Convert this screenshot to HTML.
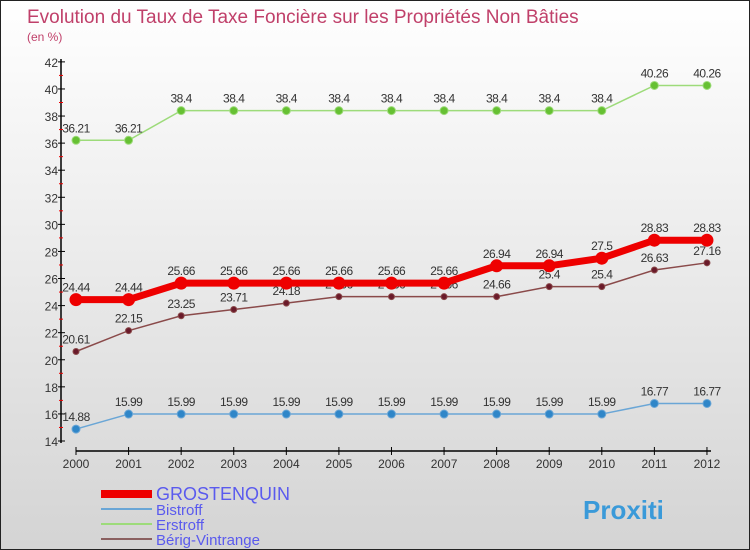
<!DOCTYPE html>
<html><head><meta charset="utf-8"><style>
body{margin:0}
#c{width:750px;height:550px;position:relative;overflow:hidden;font-family:"Liberation Sans",sans-serif;background:linear-gradient(#ffffff,#d4d4d4);box-sizing:border-box;border:1px solid #222}
</style></head><body>
<div id="c">
<svg id="s" width="750" height="550" style="position:absolute;left:0;top:0">
<text x="26" y="22" font-size="19" fill="#c0406a">Evolution du Taux de Taxe Foncière sur les Propriétés Non Bâties</text>
<text x="26" y="40" font-size="12" fill="#c0406a">(en %)</text>
<g id="g"></g>
</svg>
</div>
<script>
const years=[2000,2001,2002,2003,2004,2005,2006,2007,2008,2009,2010,2011,2012];
const grost=[24.44,24.44,25.66,25.66,25.66,25.66,25.66,25.66,26.94,26.94,27.5,28.83,28.83];
const bistroff=[14.88,15.99,15.99,15.99,15.99,15.99,15.99,15.99,15.99,15.99,15.99,16.77,16.77];
const erstroff=[36.21,36.21,38.4,38.4,38.4,38.4,38.4,38.4,38.4,38.4,38.4,40.26,40.26];
const berig=[20.61,22.15,23.25,23.71,24.18,24.66,24.66,24.66,24.66,25.4,25.4,26.63,27.16];
const yTicks=[14,16,18,20,22,24,26,28,30,32,34,36,38,40,42];
const NS="http://www.w3.org/2000/svg";
const g=document.getElementById('g');
const X=i=>75+i*52.58, Y=v=>440-(v-14)*13.54;
function mk(t,a,p){const e=document.createElementNS(NS,t);for(const k in a)e.setAttribute(k,a[k]);(p||g).appendChild(e);return e;}
let e;
e=mk('line',{x1:60,y1:58,x2:60,y2:442,stroke:'#000','stroke-width':1.5});


e=mk('line',{x1:75,y1:450,x2:710,y2:450,stroke:'#000','stroke-width':1.5});


yTicks.forEach(v=>{
 mk('line',{x1:57,y1:Y(v),x2:64,y2:Y(v),stroke:'#000'});
 if(v<42) mk('line',{x1:58,y1:Y(v+1),x2:62,y2:Y(v+1),stroke:'#e00'});
 e=mk('text',{x:57,y:Y(v)+5,'font-size':12,'text-anchor':'end',fill:'#333'});e.textContent=v;
 
 
});
years.forEach((yr,i)=>{
 mk('line',{x1:X(i),y1:446,x2:X(i),y2:454,stroke:'#000'});
 e=mk('text',{x:X(i),y:467,'font-size':12,'text-anchor':'middle',fill:'#333'});e.textContent=yr;
 
 
});
function series(d,color,w,r,name,dot){
 e=mk('polyline',{points:d.map((v,i)=>X(i)+','+Y(v)).join(' '),fill:'none',stroke:color,'stroke-width':w});
 
 
 d.forEach((v,i)=>{
  e=mk('circle',{cx:X(i),cy:Y(v),r:r,fill:dot,stroke:color});
  
  
  e=mk('text',{x:X(i),y:Y(v)-8,'font-size':12,'text-anchor':'middle',fill:'#333','letter-spacing':'-0.5'});e.textContent=v;
  
  
 });
}
series(erstroff,'#9ddb7a',1.5,4,'erstroff','#66c033');
series(bistroff,'#6aa6d6',1.5,4,'bistroff','#2f86c8');
series(berig,'#8a4a4a',1.5,3,'berig-vintrange','#6a1a2a');
series(grost,'#ee0000',7,6,'grostenquin','#ee0000');
const leg=[['GROSTENQUIN','#ee0000',8,493,18],['Bistroff','#6aa6d6',2,508,15],['Erstroff','#9ddb7a',2,523,15],['Bérig-Vintrange','#8a6060',2,538,15]];
leg.forEach(l=>{
 e=mk('line',{x1:100,y1:l[3],x2:151,y2:l[3],stroke:l[1],'stroke-width':l[2]});
 
 
 e=mk('text',{x:155,y:l[3]+6,'font-size':l[4],fill:'#5a5aee'});e.textContent=l[0];
 
 
});
e=mk('text',{x:582,y:518,'font-size':26,'font-weight':'bold',fill:'#3a9ad9'});e.textContent='Proxiti';


</script>
</body></html>
